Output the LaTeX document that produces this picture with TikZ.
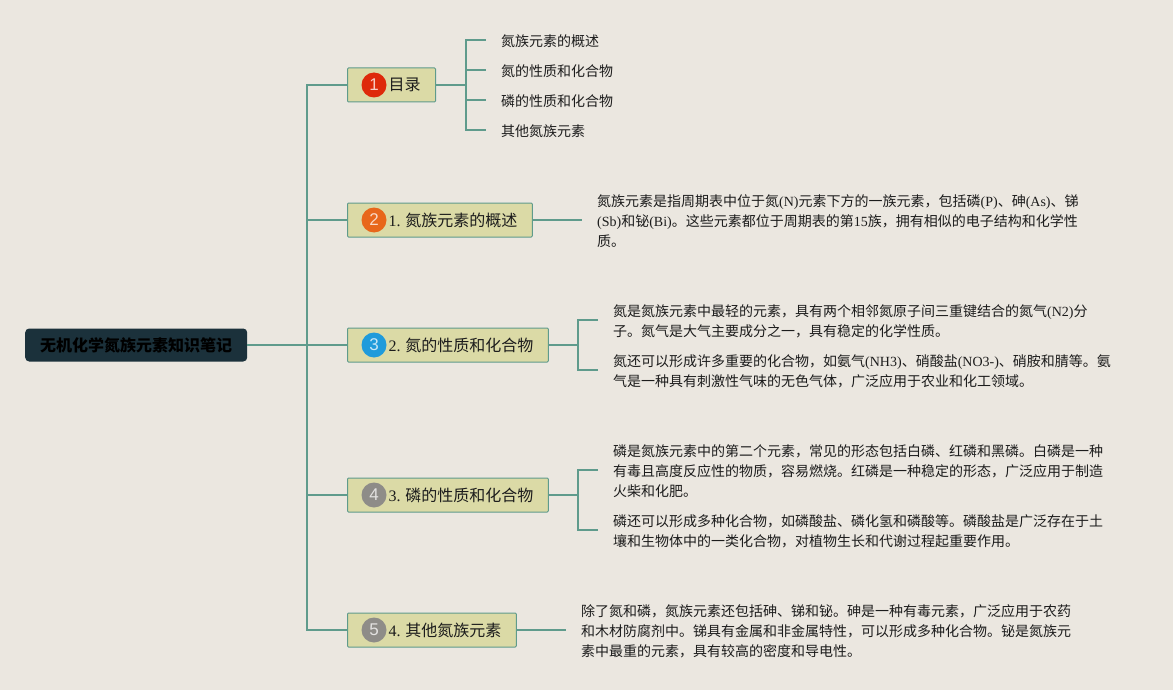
\documentclass[tikz,border=0pt]{standalone}
\usepackage{fontspec}
\setmainfont{Noto Sans CJK SC}
\newfontfamily\latinserif{Liberation Serif}
\newfontfamily\digitsans{Liberation Sans}
\newcommand{\lat}[1]{{\latinserif #1}}
\newcommand{\topictext}[1]{\hspace*{26pt}\raisebox{-1pt}{#1}}
\usetikzlibrary{positioning,calc}
\definecolor{paperbg}{HTML}{EBE7E0}
\definecolor{linkteal}{HTML}{5F9B8C}
\definecolor{rootdark}{HTML}{1B313B}
\definecolor{topicfill}{HTML}{DBDAA6}
\definecolor{inkdark}{HTML}{1C1C1C}
\definecolor{badgered}{HTML}{DE2A0A}
\definecolor{badgeorange}{HTML}{E8671B}
\definecolor{badgeblue}{HTML}{1F9BDB}
\definecolor{badgegray}{HTML}{8E8C88}
\tikzset{
  rootbox/.style={fill=rootdark, rounded corners=4pt, minimum height=33pt, inner xsep=15pt,
    inner ysep=0pt, anchor=west, font=\fontsize{16}{20}\selectfont\bfseries, text=black},
  topic/.style={draw=linkteal, fill=topicfill, rounded corners=1pt, line width=1pt,
    minimum height=34pt, inner xsep=15pt, inner ysep=0pt, anchor=west,
    font=\fontsize{16}{20}\selectfont, text=inkdark},
  badge/.style={circle, fill=#1, text=#1!25!white, minimum size=25pt, inner sep=0pt,
    font=\digitsans\fontsize{17}{20}\selectfont},
  leaf/.style={anchor=west, align=left, inner xsep=15pt, inner ysep=0pt,
    font=\fontsize{14}{20}\selectfont, text=inkdark},
  link/.style={linkteal, line width=2pt},
}
\begin{document}
\begin{tikzpicture}[x=1pt,y=-1pt]
  \useasboundingbox (0,0) rectangle (1173,690);
  \fill[paperbg] (0,0) rectangle (1173,690);
  % root and the five topics
  \node[rootbox] (root) at (25,345) {无机化学氮族元素知识笔记};
  \coordinate (trunk) at (307,345);
  \node[topic] (toc) at (347,85) {\topictext{目录}};
  \node[topic] (sec1) at (347,220) {\topictext{\lat{1.} 氮族元素的概述}};
  \node[topic] (sec2) at (347,345) {\topictext{\lat{2.} 氮的性质和化合物}};
  \node[topic] (sec3) at (347,495) {\topictext{\lat{3.} 磷的性质和化合物}};
  \node[topic] (sec4) at (347,630) {\topictext{\lat{4.} 其他氮族元素}};
  \foreach \tp/\num/\col in {toc/1/badgered,sec1/2/badgeorange,sec2/3/badgeblue,sec3/4/badgegray,sec4/5/badgegray} {
    \node[badge=\col] (badge\num) at ($(\tp.west)+(27,0)$) {\num};
    \draw[link] (trunk) |- (\tp.west);
  }
  \draw[link] (root.east) -- (trunk);
  % contents list
  \coordinate (tocfork) at (466,85);
  \draw[link] (toc.east) -- (tocfork);
  \foreach \i/\y/\txt in {1/41.5/氮族元素的概述,2/71.5/氮的性质和化合物,3/101.5/磷的性质和化合物,4/131.5/其他氮族元素} {
    \node[leaf] (tocleaf\i) at (486,\y) {\txt};
    \draw[link] (tocfork) |- ([yshift=1.5pt]tocleaf\i.west);
  }
  % section texts
  \node[leaf] (text1) at (582,221.5) {氮族元素是指周期表中位于氮\lat{(N)}元素下方的一族元素，包括磷\lat{(P)}、砷\lat{(As)}、锑\\
    \lat{(Sb)}和铋\lat{(Bi)}。这些元素都位于周期表的第\lat{15}族，拥有相似的电子结构和化学性\\质。};
  \draw[link] (sec1.east) -- ([yshift=1.5pt]text1.west);
  \coordinate (fork2) at (578,345);
  \node[leaf] (text2a) at (598,321.5) {氮是氮族元素中最轻的元素，具有两个相邻氮原子间三重键结合的氮气\lat{(N2)}分\\
    子。氮气是大气主要成分之一，具有稳定的化学性质。};
  \node[leaf] (text2b) at (598,371.5) {氮还可以形成许多重要的化合物，如氨气\lat{(NH3)}、硝酸盐\lat{(NO3-)}、硝胺和腈等。氨\\
    气是一种具有刺激性气味的无色气体，广泛应用于农业和化工领域。};
  \draw[link] (sec2.east) -- (fork2);
  \draw[link] (fork2) |- ([yshift=1.5pt]text2a.west);
  \draw[link] (fork2) |- ([yshift=1.5pt]text2b.west);
  \coordinate (fork3) at (578,495);
  \node[leaf] (text3a) at (598,471.5) {磷是氮族元素中的第二个元素，常见的形态包括白磷、红磷和黑磷。白磷是一种\\
    有毒且高度反应性的物质，容易燃烧。红磷是一种稳定的形态，广泛应用于制造\\火柴和化肥。};
  \node[leaf] (text3b) at (598,531.5) {磷还可以形成多种化合物，如磷酸盐、磷化氢和磷酸等。磷酸盐是广泛存在于土\\
    壤和生物体中的一类化合物，对植物生长和代谢过程起重要作用。};
  \draw[link] (sec3.east) -- (fork3);
  \draw[link] (fork3) |- ([yshift=1.5pt]text3a.west);
  \draw[link] (fork3) |- ([yshift=1.5pt]text3b.west);
  \node[leaf] (text4) at (566,631.5) {除了氮和磷，氮族元素还包括砷、锑和铋。砷是一种有毒元素，广泛应用于农药\\
    和木材防腐剂中。锑具有金属和非金属特性，可以形成多种化合物。铋是氮族元\\素中最重的元素，具有较高的密度和导电性。};
  \draw[link] (sec4.east) -- ([yshift=1.5pt]text4.west);
\end{tikzpicture}
\end{document}
